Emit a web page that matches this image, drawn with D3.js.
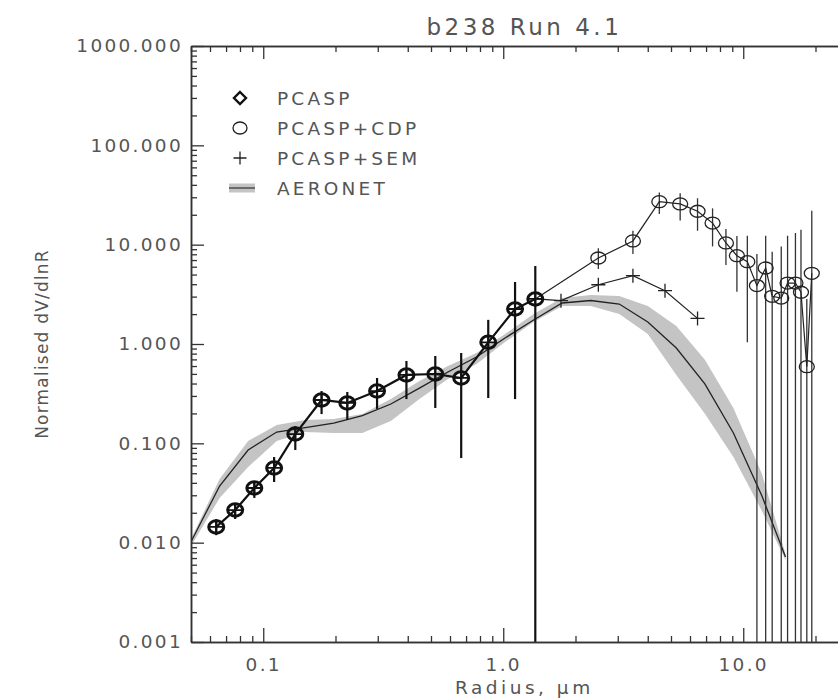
<!DOCTYPE html>
<html><head><meta charset="utf-8">
<script src="https://cdn.jsdelivr.net/npm/d3@7"></script>
<style>
html,body{margin:0;padding:0;background:#fff;}
svg{display:block;}
text{font-family:"DejaVu Sans",sans-serif;fill:#555;}
</style></head>
<body>
<svg id="chart" width="838" height="698"></svg>
<script>
// ---------- data ----------
const pcaspR  = [0.0637,0.0764,0.0918,0.111,0.136,0.175,0.224,0.298,0.395,0.521,0.668,0.866,1.12,1.36];
const pcaspV  = [0.0144,0.0213,0.0355,0.0565,0.124,0.273,0.255,0.336,0.488,0.499,0.455,1.04,2.25,2.84];
const pcaspLo = [0.0119,0.0173,0.0282,0.0408,0.0857,0.197,0.172,0.222,0.279,0.227,0.0711,0.286,0.279,0.0005];
const pcaspHi = [0.0173,0.0245,0.0418,0.0728,0.149,0.336,0.329,0.455,0.675,0.757,0.812,1.75,4.21,6.1];

const cdpR  = [2.49,3.47,4.47,5.46,6.45,7.45,8.47,9.41,10.4,11.4,12.4,13.2,14.4,15.3,16.5,17.4,18.4,19.3];
const cdpV  = [7.34,10.9,27.1,25.7,21.7,16.5,10.4,7.74,6.74,3.87,5.82,3.02,2.90,4.11,4.11,3.32,0.591,5.15];
const cdpLo = [5.69,8.06,20.4,17.5,13.8,9.6,6.24,3.36,1.04,0.0005,0.0005,0.0005,0.0005,0.0005,0.0005,0.0005,0.0005,0.0005];
const cdpHi = [9.19,13.8,33.6,32.9,29.3,23.2,14.4,12.2,12.3,8.06,12.3,8.5,9.6,12.3,13.1,14.1,2.84,22.0];

const semR = [1.74,2.49,3.47,4.72,6.45];
const semV = [2.73,3.95,4.87,3.44,1.81];

const aerR  = [0.05,0.0658,0.0865,0.1138,0.1496,0.1967,0.2587,0.3402,0.4474,0.5883,0.7737,1.0174,1.338,1.7595,2.3139,3.0429,4.0015,5.262,6.9197,9.0997,11.9665,15.0];
const aerV  = [0.0102,0.0372,0.0857,0.130,0.144,0.160,0.190,0.249,0.360,0.523,0.740,1.149,1.745,2.587,2.741,2.527,1.665,0.911,0.396,0.127,0.0295,0.00718];
const aerHi = [0.0109,0.0438,0.1055,0.153,0.172,0.176,0.197,0.279,0.425,0.601,0.812,1.261,2.005,2.905,3.113,3.043,2.413,1.518,0.695,0.227,0.0491,0.00769];
const aerLo = [0.00925,0.0282,0.0578,0.1055,0.130,0.127,0.127,0.168,0.279,0.444,0.629,1.047,1.665,2.413,2.413,2.005,1.261,0.488,0.198,0.0728,0.0208,0.00669];

const yMajor = [0.001,0.01,0.1,1,10,100,1000];
const xMajor = [0.1,1,10];
const legendLabels = ["PCASP","PCASP+CDP","PCASP+SEM","AERONET"];
const titleText = "b238 Run 4.1";
const xTitle = "Radius, \u03BCm";
const yTitle = "Normalised dV/dlnR";

// ---------- layout ----------
const L = 191, T = 46, B = 642;
const R = L + 240*Math.log10(30/0.05);
const svg = d3.select("#chart");
const x = d3.scaleLog().domain([0.05,30]).range([L,R]);
const y = d3.scaleLog().domain([0.001,1000]).range([B,T]);
const axCol = "#333";

svg.append("defs").append("clipPath").attr("id","clip")
  .append("rect").attr("x",L).attr("y",T).attr("width",R-L).attr("height",B-T);
const plot = svg.append("g").attr("clip-path","url(#clip)");

// AERONET band
const aer = aerR.map((r,i)=>({r,v:aerV[i],lo:aerLo[i],hi:aerHi[i]}));
plot.append("path").datum(aer)
  .attr("d", d3.area().x(d=>x(d.r)).y0(d=>y(d.lo)).y1(d=>y(d.hi)))
  .attr("fill","#c4c4c4").attr("stroke","none");
plot.append("path").datum(aer)
  .attr("d", d3.line().x(d=>x(d.r)).y(d=>y(d.v)))
  .attr("fill","none").attr("stroke","#222").attr("stroke-width",1.3);

// CDP error bars
const cdp = cdpR.map((r,i)=>({r,v:cdpV[i],lo:cdpLo[i],hi:cdpHi[i]}));
plot.selectAll(".cerr").data(cdp).enter().append("line")
  .attr("x1",d=>x(d.r)).attr("x2",d=>x(d.r))
  .attr("y1",d=>y(d.lo)).attr("y2",d=>y(d.hi))
  .attr("stroke","#333").attr("stroke-width",1.3);

// PCASP error bars
const pc = pcaspR.map((r,i)=>({r,v:pcaspV[i],lo:pcaspLo[i],hi:pcaspHi[i]}));
plot.selectAll(".perr").data(pc).enter().append("line")
  .attr("x1",d=>x(d.r)).attr("x2",d=>x(d.r))
  .attr("y1",d=>y(d.lo)).attr("y2",d=>y(d.hi))
  .attr("stroke","#111").attr("stroke-width",2.2);

const last = pc[pc.length-1];
const line = d3.line().x(d=>x(d.r)).y(d=>y(d.v));
// CDP line
plot.append("path").datum([last].concat(cdp)).attr("d",line)
  .attr("fill","none").attr("stroke","#222").attr("stroke-width",1.2);
// SEM line
const sem = semR.map((r,i)=>({r,v:semV[i]}));
plot.append("path").datum([last].concat(sem)).attr("d",line)
  .attr("fill","none").attr("stroke","#222").attr("stroke-width",1.2);
// PCASP line
plot.append("path").datum(pc).attr("d",line)
  .attr("fill","none").attr("stroke","#111").attr("stroke-width",2.2);

// CDP markers
plot.selectAll(".cm").data(cdp).enter().append("ellipse")
  .attr("cx",d=>x(d.r)).attr("cy",d=>y(d.v)).attr("rx",7.5).attr("ry",6)
  .attr("fill","none").attr("stroke","#222").attr("stroke-width",1.3);
// SEM markers
const plus = d3.symbol().type(d3.symbolCross);
function plusPath(s){return `M${-s},0H${s}M0,${-s}V${s}`;}
plot.selectAll(".sm").data(sem).enter().append("path")
  .attr("transform",d=>`translate(${x(d.r)},${y(d.v)})`)
  .attr("d",plusPath(7)).attr("fill","none").attr("stroke","#222").attr("stroke-width",1.3);
// PCASP markers (overlaid diamond/circle/plus -> heavy ring with cross)
plot.selectAll(".pm").data(pc).enter().append("ellipse")
  .attr("cx",d=>x(d.r)).attr("cy",d=>y(d.v)).attr("rx",7.5).attr("ry",6.2)
  .attr("fill","none").attr("stroke","#111").attr("stroke-width",3);
plot.selectAll(".pp").data(pc).enter().append("path")
  .attr("transform",d=>`translate(${x(d.r)},${y(d.v)})`)
  .attr("d",plusPath(7)).attr("fill","none").attr("stroke","#111").attr("stroke-width",1.8);

// ---------- axes ----------
function styleAxis(g){
  g.select(".domain").attr("stroke",axCol).attr("stroke-width",1.5);
  g.selectAll(".tick line").attr("stroke",axCol).attr("stroke-width",1.3);
  g.selectAll("text").attr("fill","#555").attr("font-size",18.5)
    .attr("font-family","DejaVu Sans").attr("letter-spacing",2.3);
}
const yMinor = y.ticks().filter(v=>!yMajor.some(m=>Math.abs(m-v)/m<1e-6));
const xMinor = x.ticks().filter(v=>!xMajor.some(m=>Math.abs(m-v)/m<1e-6));

// left
svg.append("g").attr("transform",`translate(${L},0)`)
  .call(d3.axisLeft(y).tickValues(yMinor).tickSize(-6).tickFormat("").tickSizeOuter(0)).call(styleAxis);
svg.append("g").attr("transform",`translate(${L},0)`)
  .call(d3.axisLeft(y).tickValues(yMajor).tickSize(-13).tickPadding(8).tickFormat(d3.format(".3f")).tickSizeOuter(0))
  .call(styleAxis);
// right
svg.append("g").attr("transform",`translate(${R},0)`)
  .call(d3.axisRight(y).tickValues(yMinor).tickSize(-6).tickFormat("").tickSizeOuter(0)).call(styleAxis);
svg.append("g").attr("transform",`translate(${R},0)`)
  .call(d3.axisRight(y).tickValues(yMajor).tickSize(-13).tickFormat("").tickSizeOuter(0)).call(styleAxis);
// bottom
svg.append("g").attr("transform",`translate(0,${B})`)
  .call(d3.axisBottom(x).tickValues(xMinor).tickSize(-6).tickFormat("").tickSizeOuter(0)).call(styleAxis);
svg.append("g").attr("transform",`translate(0,${B})`)
  .call(d3.axisBottom(x).tickValues(xMajor).tickSize(-14).tickPadding(16).tickFormat(d3.format(".1f")).tickSizeOuter(0))
  .call(styleAxis);
// top
svg.append("g").attr("transform",`translate(0,${T})`)
  .call(d3.axisTop(x).tickValues(xMinor).tickSize(-6).tickFormat("").tickSizeOuter(0)).call(styleAxis);
svg.append("g").attr("transform",`translate(0,${T})`)
  .call(d3.axisTop(x).tickValues(xMajor).tickSize(-13).tickFormat("").tickSizeOuter(0)).call(styleAxis);

// ---------- titles ----------
const cx = (L+R)/2;
svg.append("text").attr("x",cx).attr("y",35).attr("text-anchor","middle")
  .attr("font-size",23).attr("letter-spacing",3.5).text(titleText);
svg.append("text").attr("x",cx).attr("y",694).attr("text-anchor","middle")
  .attr("font-size",18.5).attr("letter-spacing",3.5).text(xTitle);
svg.append("text").attr("transform",`translate(48,${(T+B)/2}) rotate(-90)`)
  .attr("text-anchor","middle").attr("font-size",17).attr("letter-spacing",1.2).text(yTitle);

// ---------- legend ----------
const lg = svg.append("g").attr("transform","translate(240,98)");
const rowH = 30;
legendLabels.forEach((lab,i)=>{
  const g = lg.append("g").attr("transform",`translate(0,${i*rowH})`);
  if(i===0){
    g.append("path").attr("d","M0,-6L6,0L0,6L-6,0Z").attr("fill","none").attr("stroke","#111").attr("stroke-width",2.4);
  } else if(i===1){
    g.append("ellipse").attr("rx",7).attr("ry",6).attr("fill","none").attr("stroke","#222").attr("stroke-width",1.3);
  } else if(i===2){
    g.append("path").attr("d",plusPath(6.5)).attr("fill","none").attr("stroke","#222").attr("stroke-width",1.3);
  } else {
    g.append("rect").attr("x",-11).attr("y",-4.5).attr("width",26).attr("height",9).attr("fill","#c4c4c4");
    g.append("line").attr("x1",-11).attr("x2",15).attr("stroke","#555").attr("stroke-width",1.6);
  }
  g.append("text").attr("x",37).attr("y",7).attr("font-size",18.5).attr("letter-spacing",3.2).text(lab);
});
</script>
</body></html>
